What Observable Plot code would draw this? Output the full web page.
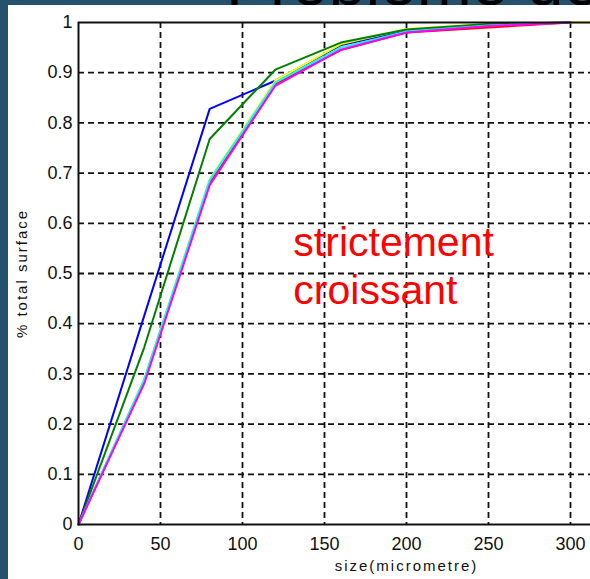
<!DOCTYPE html>
<html>
<head>
<meta charset="utf-8">
<script src="https://cdn.jsdelivr.net/npm/d3@7"></script>
<script src="https://cdn.jsdelivr.net/npm/@observablehq/plot@0.6"></script>
<style>
  html, body { margin: 0; padding: 0; width: 590px; height: 579px; overflow: hidden; background: #26516d; }
  #title { position: absolute; left: 0; top: 0; }
  #panel { position: absolute; left: 8px; top: 5px; width: 760px; height: 600px; background: #fff; overflow: hidden; }
  #panel svg { display: block; max-width: none !important; }
  [aria-label="x-axis label"] text, [aria-label="y-axis label"] text { letter-spacing: 2px; }
</style>
</head>
<body>
<svg id="title" width="590" height="10"><text x="226" y="5" font-family="Liberation Sans, Arial, sans-serif" font-size="66" fill="#000">Problème de</text></svg>
<div id="panel"></div>
<script>
// particle size (micrometre)
const sizes = [0, 40, 80, 120, 160, 200, 250, 300, 350];
// cumulative fraction of total surface, one array per curve
const blueCurve    = [0, 0.415, 0.828, 0.884, 0.955, 0.983, 0.996, 1, null];
const greenCurve   = [0, 0.352, 0.768, 0.906, 0.960, 0.986, 0.997, 1, null];
const redCurve     = [0, 0.285, 0.680, 0.878, 0.945, 0.980, 0.990, 1, null];
const cyanCurve    = [0, 0.288, 0.686, 0.880, 0.950, 0.982, 0.994, 1, null];
const magentaCurve = [0, 0.280, 0.676, 0.874, 0.946, 0.980, 0.993, 1, null];
const yellowCurve  = [0, 0.290, 0.688, 0.884, 0.957, 0.987, 0.997, 1, 1];

const seriesNames  = ["blue", "yellow", "green", "red", "cyan", "magenta"];
const seriesValues = [blueCurve, yellowCurve, greenCurve, redCurve, cyanCurve, magentaCurve];
const seriesColors = ["#0000ff", "#d2d200", "#169c16", "#ff0000", "#00c8c8", "#ff00ff"];

const xTicks = [0, 50, 100, 150, 200, 250, 300];
const xGrid  = [50, 100, 150, 200, 250, 300, 350];
const yTicks = [0, 0.1, 0.2, 0.3, 0.4, 0.5, 0.6, 0.7, 0.8, 0.9, 1];
const notes = [{size: 131, frac: 0.44, text: "strictement\ncroissant"}];

const rows = seriesValues.flatMap((vals, i) =>
  vals.map((v, j) => ({size: sizes[j], frac: v, series: seriesNames[i]})).filter(d => d.frac != null));

const font = "Liberation Sans, Arial, sans-serif";
const chart = Plot.plot({
  width: 736, height: 574,
  marginLeft: 70, marginTop: 17, marginBottom: 55, marginRight: 10,
  style: {background: "white", fontFamily: font, fontSize: "18px", color: "#111", maxWidth: "none"},
  x: {domain: [0, 400]},
  y: {domain: [0, 1]},
  color: {domain: seriesNames, range: seriesColors},
  marks: [
    Plot.gridX(xGrid, {stroke: "#111", strokeOpacity: 1, strokeWidth: 1.8, strokeDasharray: "6,4"}),
    Plot.gridY(yTicks.filter(t => t > 0 && t < 1), {stroke: "#111", strokeOpacity: 1, strokeWidth: 1.8, strokeDasharray: "6,4"}),
    Plot.axisX({ticks: xTicks, tickSize: 0, tickPadding: 13, fontSize: 18, label: "size(micrometre)", labelAnchor: "center", labelArrow: "none", labelOffset: 46}),
    Plot.axisY({ticks: yTicks, tickSize: 0, tickPadding: 6, fontSize: 18,
      tickFormat: d => d === 0 ? "0" : d === 1 ? "1" : d.toFixed(1),
      label: "% total surface", labelAnchor: "center", labelArrow: "none", labelOffset: 62}),
    Plot.line(rows, {x: "size", y: "frac", z: "series", stroke: "series", strokeWidth: 2}),
    Plot.frame({stroke: "#111", strokeWidth: 2}),
    Plot.text(notes, {x: "size", y: "frac", text: "text", fill: "#ff0000", fontSize: 41, fontFamily: font,
      textAnchor: "start", lineAnchor: "bottom", lineHeight: 1.17})
  ]
});
chart.querySelectorAll('[aria-label="x-axis label"] text, [aria-label="y-axis label"] text').forEach(t => t.setAttribute("font-size", "15"));
document.getElementById("panel").appendChild(chart);
</script>
</body>
</html>
